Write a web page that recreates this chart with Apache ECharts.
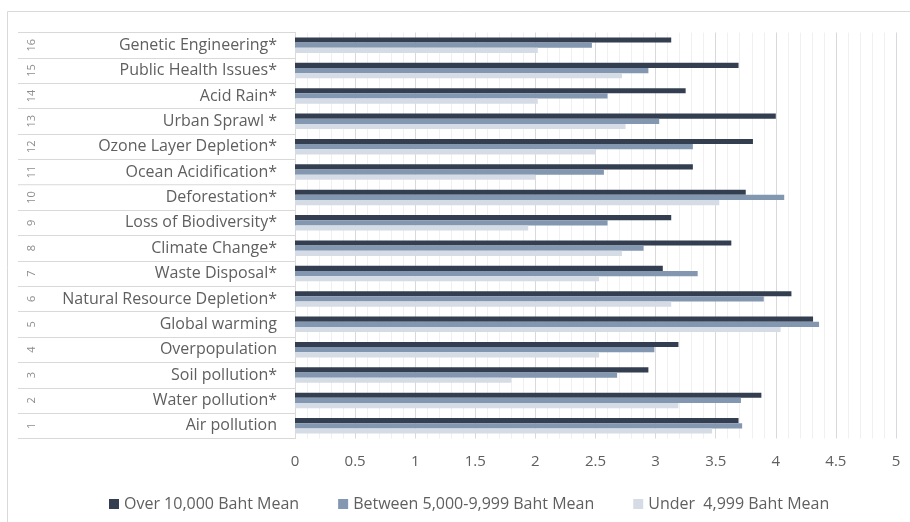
<!DOCTYPE html>
<html>
<head>
<meta charset="utf-8">
<script src="https://cdn.jsdelivr.net/npm/echarts@6/dist/echarts.min.js"></script>
<style>
  html, body { margin: 0; padding: 0; background: #fff; }
  #chart { width: 910px; height: 522px; }
</style>
</head>
<body>
<div id="chart"></div>
<script>
// categories, bottom to top
const categories = [
  'Air pollution', 'Water pollution*', 'Soil pollution*', 'Overpopulation',
  'Global warming', 'Natural Resource Depletion*', 'Waste Disposal*', 'Climate Change*',
  'Loss of Biodiversity*', 'Deforestation*', 'Ocean Acidification*', 'Ozone Layer Depletion*',
  'Urban Sprawl *', 'Acid Rain*', 'Public Health Issues*', 'Genetic Engineering*'
];
const rowNumbers = ['1', '2', '3', '4', '5', '6', '7', '8', '9', '10', '11', '12', '13', '14', '15', '16'];

const seriesNames = ['Over 10,000 Baht Mean', 'Between 5,000-9,999 Baht Mean', 'Under  4,999 Baht Mean'];
const over10000 = [3.69, 3.88, 2.94, 3.19, 4.31, 4.13, 3.06, 3.63, 3.13, 3.75, 3.31, 3.81, 4.00, 3.25, 3.69, 3.13];
const between5000 = [3.72, 3.71, 2.68, 2.99, 4.36, 3.90, 3.35, 2.90, 2.60, 4.07, 2.57, 3.31, 3.03, 2.60, 2.94, 2.47];
const under4999 = [3.47, 3.19, 1.80, 2.53, 4.04, 3.13, 2.53, 2.72, 1.94, 3.53, 2.00, 2.50, 2.75, 2.02, 2.72, 2.02];

const colors = ['#333f50', '#8497b0', '#d6dce5'];
const textColor = '#5f5f5f';
const font = 'Open Sans';

const chart = echarts.init(document.getElementById('chart'));

const option = {
  animation: false,
  textStyle: { fontFamily: font },
  graphic: [{
    type: 'rect',
    shape: { x: 7.5, y: 11.5, width: 920, height: 530 },
    style: { fill: 'none', stroke: '#d9d9d9', lineWidth: 1 },
    silent: true
  }],
  legend: {
    data: seriesNames,
    left: 104,
    top: 491,
    itemWidth: 10,
    itemHeight: 10,
    itemGap: 39,
    icon: 'rect',
    textStyle: { color: textColor, fontSize: 16, fontFamily: font }
  },
  grid: { left: 295, right: 14, top: 32.5, bottom: 83.5 },
  xAxis: {
    type: 'value',
    min: 0,
    max: 5,
    interval: 0.5,
    axisLine: { show: false },
    axisTick: { show: false },
    axisLabel: { color: textColor, fontSize: 15, margin: 16, fontFamily: font },
    splitLine: { lineStyle: { color: '#d9d9d9' } },
    minorTick: { show: false, splitNumber: 5 },
    minorSplitLine: { show: true, lineStyle: { color: '#f0f0f0' } }
  },
  yAxis: [{
    type: 'category',
    data: categories,
    axisLine: { show: true, lineStyle: { color: '#d9d9d9' } },
    axisTick: { show: true, length: 277, interval: 0, lineStyle: { color: '#d9d9d9' } },
    axisLabel: { color: textColor, fontSize: 16, margin: 18, interval: 0, fontFamily: font }
  }, {
    type: 'category',
    data: rowNumbers,
    position: 'left',
    offset: 258,
    axisLine: { show: false },
    axisTick: { show: false },
    axisLabel: { color: '#8c8c8c', fontSize: 11, rotate: 90, margin: 0, interval: 0, fontFamily: font }
  }],
  series: [
    { name: seriesNames[0], type: 'bar', yAxisIndex: 0, data: over10000, barWidth: 5.2, barGap: '0%', itemStyle: { color: colors[0] } },
    { name: seriesNames[1], type: 'bar', yAxisIndex: 0, data: between5000, barWidth: 5.2, barGap: '0%', itemStyle: { color: colors[1] } },
    { name: seriesNames[2], type: 'bar', yAxisIndex: 0, data: under4999, barWidth: 5.2, barGap: '0%', itemStyle: { color: colors[2] } }
  ]
};

chart.setOption(option);
</script>
</body>
</html>
